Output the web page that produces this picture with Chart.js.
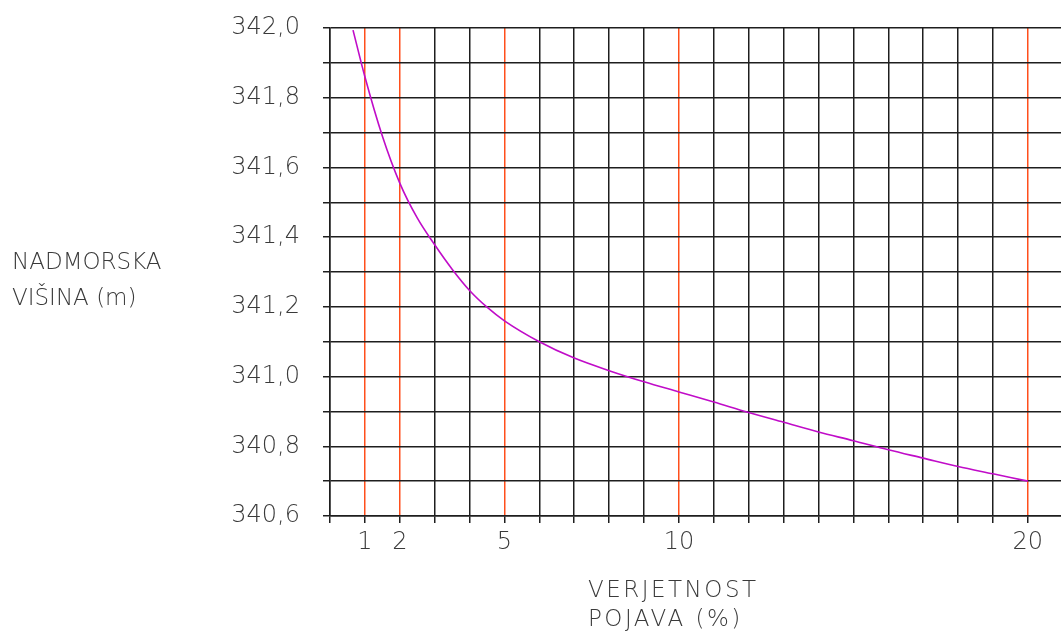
<!DOCTYPE html>
<html>
<head>
<meta charset="utf-8">
<script src="https://cdn.jsdelivr.net/npm/chart.js@4/dist/chart.umd.min.js"></script>
<style>
  html, body { margin: 0; padding: 0; background: #fff; }
  #wrap { width: 1061px; height: 631px; position: relative; }
</style>
</head>
<body>
<div id="wrap"><canvas id="chart" width="1061" height="631"></canvas></div>
<script>
// Verjetnost pojava (%) vs. nadmorska visina (m)
var probability = [0.66, 1, 1.5, 2, 2.5, 3, 3.5, 4, 4.5, 5, 6, 7, 8, 9, 10, 11, 12, 13, 14, 15, 16, 17, 18, 19, 20];
var elevation = [341.994, 341.86, 341.69, 341.555, 341.455, 341.378, 341.308, 341.247, 341.199, 341.16,
  341.10, 341.053, 341.017, 340.985, 340.956, 340.927, 340.897, 340.869, 340.841, 340.816,
  340.790, 340.766, 340.742, 340.721, 340.70];

var xGridValues = [0, 1, 2, 3, 4, 5, 6, 7, 8, 9, 10, 11, 12, 13, 14, 15, 16, 17, 18, 19, 20];
var xLabelValues = [1, 2, 5, 10, 20];
var yLabelValues = ['340,6', '340,8', '341,0', '341,2', '341,4', '341,6', '341,8', '342,0'];

var yTitle = ['NADMORSKA', 'VIŠINA (m)'];
var xTitle = ['VERJETNOST', 'POJAVA (%)'];

var GRID = '#1e1e1e';
var RED = '#ff4f1c';
var TEXT = '#3a3a3a';
var FONT = 'DejaVu Sans';

// axis titles drawn as plain text, the way the drawing has them
var titlePlugin = {
  id: 'axisTitles',
  afterDraw: function (chart) {
    var ctx = chart.ctx;
    ctx.save();
    ctx.fillStyle = TEXT;
    ctx.font = '300 23px "' + FONT + '"';
    ctx.textAlign = 'left';
    ctx.textBaseline = 'alphabetic';
    ctx.letterSpacing = '0px';
    ctx.fillText(yTitle[0], 12, 269);
    ctx.fillText(yTitle[1], 12, 305);
    ctx.letterSpacing = '2.5px';
    ctx.fillText(xTitle[0], 588, 597);
    ctx.fillText(xTitle[1], 588, 626);
    ctx.restore();
  }
};

var ctx = document.getElementById('chart').getContext('2d');
new Chart(ctx, {
  type: 'line',
  data: {
    datasets: [{
      data: probability.map(function (p, i) { return { x: p, y: elevation[i] }; }),
      borderColor: '#c00cc8',
      borderWidth: 1.6,
      pointRadius: 0,
      fill: false,
      cubicInterpolationMode: 'monotone'
    }]
  },
  plugins: [titlePlugin],
  options: {
    responsive: false,
    animation: false,
    layout: { padding: { left: 0, right: 0, top: 28, bottom: 0 } },
    plugins: { legend: { display: false }, tooltip: { enabled: false } },
    scales: {
      x: {
        type: 'linear',
        min: 0,
        max: 20.95,
        afterBuildTicks: function (scale) {
          scale.ticks = xGridValues.map(function (v) { return { value: v }; });
        },
        afterFit: function (scale) {
          scale.height = 115;
          scale.paddingLeft = 0;
          scale.paddingRight = 0;
        },
        grid: {
          color: function (c) {
            return xLabelValues.indexOf(c.tick && c.tick.value) !== -1 ? RED : GRID;
          },
          tickColor: GRID,
          lineWidth: 1.5,
          tickLength: 7
        },
        border: { color: GRID, width: 1.5 },
        ticks: {
          autoSkip: false,
          maxRotation: 0,
          padding: 5,
          color: TEXT,
          font: { family: FONT, size: 24, weight: '300' },
          callback: function (v) { return xLabelValues.indexOf(v) !== -1 ? String(v) : ''; }
        }
      },
      y: {
        type: 'linear',
        min: 340.6,
        max: 342.0,
        afterFit: function (scale) {
          scale.width = 330;
          scale.paddingTop = 0;
          scale.paddingBottom = 0;
        },
        grid: { color: GRID, tickColor: GRID, lineWidth: 1.5, tickLength: 7 },
        border: { color: GRID, width: 1.5 },
        ticks: {
          stepSize: 0.1,
          autoSkip: false,
          padding: 23,
          color: TEXT,
          font: { family: FONT, size: 24, weight: '300' },
          callback: function (v) {
            var s = v.toFixed(1).replace('.', ',');
            return yLabelValues.indexOf(s) !== -1 ? s : '';
          }
        }
      }
    }
  }
});
</script>
</body>
</html>
